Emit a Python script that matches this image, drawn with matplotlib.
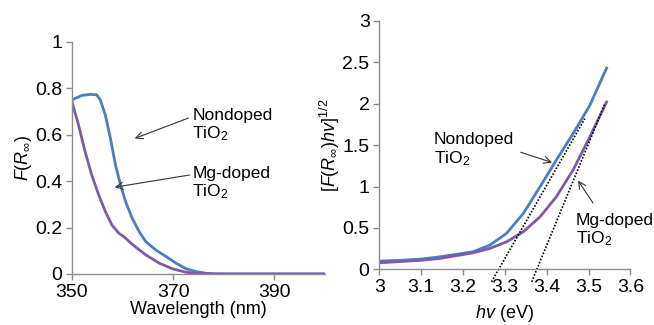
import numpy as np
import matplotlib.pyplot as plt

plt.rcParams['font.family'] = 'Liberation Sans'
plt.rcParams['mathtext.fontset'] = 'custom'
plt.rcParams['mathtext.rm'] = 'Liberation Sans'
plt.rcParams['mathtext.it'] = 'Liberation Sans:italic'

# Left panel: F(R) vs wavelength
wl_nondoped = [350, 351.9, 353.6, 354.9, 355.6, 356.6, 357.6, 358.6, 359.6, 360.6, 361.9,
               363.3, 364.6, 366.6, 368.6, 370.6, 372.6, 374.6, 376.5, 378, 390, 400]
fr_nondoped = [0.75, 0.769, 0.774, 0.772, 0.75, 0.685, 0.585, 0.47, 0.384, 0.312, 0.24,
               0.182, 0.139, 0.103, 0.075, 0.046, 0.022, 0.01, 0.003, 0.0, 0.0, 0.0]
wl_mgdoped = [350, 351.3, 352.6, 353.9, 355.3, 356.6, 357.9, 359.3, 360.3, 361.9, 364.6,
              367.3, 369.9, 372.6, 374.6, 380, 390, 400]
fr_mgdoped = [0.743, 0.642, 0.527, 0.427, 0.34, 0.269, 0.211, 0.175, 0.16, 0.128, 0.082,
              0.046, 0.022, 0.007, 0.002, 0.0, 0.0, 0.0]

# Right panel: Tauc plot
hv_nondoped = [3.0, 3.05, 3.1, 3.145, 3.224, 3.264, 3.304, 3.344, 3.384, 3.423, 3.463, 3.503, 3.543]
tauc_nondoped = [0.1, 0.11, 0.125, 0.152, 0.213, 0.293, 0.435, 0.676, 0.998, 1.32, 1.64, 1.98, 2.43]
hv_mgdoped = [3.0, 3.05, 3.1, 3.145, 3.224, 3.264, 3.304, 3.344, 3.384, 3.423, 3.463, 3.503, 3.543]
tauc_mgdoped = [0.08, 0.095, 0.11, 0.133, 0.2, 0.253, 0.333, 0.454, 0.635, 0.877, 1.2, 1.6, 2.02]

# Tangent (band gap extrapolation) lines
tan_nondoped_x = [3.268, 3.491]
tan_nondoped_y = [-0.15, 1.82]
tan_mgdoped_x = [3.364, 3.539]
tan_mgdoped_y = [-0.15, 2.0]

blue = "#4A7EC0"
purple = "#7D5BA6"
grey = "#8C8C8C"

fig = plt.figure(figsize=(6.54, 3.25), dpi=100)
ax1 = fig.add_axes([0.110, 0.157, 0.387, 0.714])
ax2 = fig.add_axes([0.580, 0.171, 0.384, 0.765])

for ax in (ax1, ax2):
    for s in ("top", "right"):
        ax.spines[s].set_visible(False)
    for s in ("left", "bottom"):
        ax.spines[s].set_color(grey)
        ax.spines[s].set_linewidth(1.0)
    ax.tick_params(direction="out", length=4, width=1, color=grey, labelsize=14, pad=3)

ax1.plot(wl_nondoped, fr_nondoped, color=blue, lw=2)
ax1.plot(wl_mgdoped, fr_mgdoped, color=purple, lw=2)
ax1.set_xlim(350, 400)
ax1.set_ylim(0, 1)
ax1.set_xticks([350, 370, 390])
ax1.set_yticks([0, 0.2, 0.4, 0.6, 0.8, 1])
ax1.set_yticklabels(["0", "0.2", "0.4", "0.6", "0.8", "1"])
ax1.set_xlabel("Wavelength (nm)", fontsize=13, labelpad=0)
ax1.set_ylabel(r"$F(R_\infty)$", fontsize=13, labelpad=1)

arrow_kw = dict(arrowstyle="->", color="#333333", lw=0.8)

ax1.annotate("Nondoped\nTiO$_2$", xy=(361.9, 0.58), xytext=(373.8, 0.64),
             fontsize=12.5, va="center", ha="left", linespacing=1.15,
             arrowprops=dict(arrow_kw, relpos=(0, 0.75), shrinkA=1))
ax1.annotate("Mg-doped\nTiO$_2$", xy=(357.9, 0.372), xytext=(373.8, 0.39),
             fontsize=12.5, va="center", ha="left", linespacing=1.15,
             arrowprops=dict(arrow_kw, relpos=(0, 0.75), shrinkA=0))

ax2.plot(hv_nondoped, tauc_nondoped, color=blue, lw=2)
ax2.plot(hv_mgdoped, tauc_mgdoped, color=purple, lw=2)
ax2.plot(tan_nondoped_x, tan_nondoped_y, color="black", lw=1.2, ls=(0, (1, 1)), clip_on=False)
ax2.plot(tan_mgdoped_x, tan_mgdoped_y, color="black", lw=1.2, ls=(0, (1, 1)), clip_on=False)
ax2.set_xlim(3.0, 3.6)
ax2.set_ylim(0, 3)
ax2.set_xticks(np.round(np.arange(3.0, 3.61, 0.1), 1))
ax2.set_xticklabels(["3", "3.1", "3.2", "3.3", "3.4", "3.5", "3.6"])
ax2.set_yticks([0, 0.5, 1, 1.5, 2, 2.5, 3])
ax2.set_yticklabels(["0", "0.5", "1", "1.5", "2", "2.5", "3"])
ax2.set_xlabel(r"$hv$ (eV)", fontsize=13, labelpad=5)
ax2.set_ylabel(r"$[F(R_\infty)hv]^{1/2}$", fontsize=13, labelpad=0)

ax2.annotate("Nondoped\nTiO$_2$", xy=(3.419, 1.28), xytext=(3.13, 1.44),
             fontsize=12.5, va="center", ha="left", linespacing=1.15,
             arrowprops=dict(arrow_kw, relpos=(1.0, 0.5), shrinkA=3))
ax2.annotate("Mg-doped\nTiO$_2$", xy=(3.471, 1.10), xytext=(3.47, 0.47),
             fontsize=12.5, va="center", ha="left", linespacing=1.15,
             arrowprops=dict(arrow_kw, relpos=(0.3, 1.0), shrinkA=6))

fig.savefig("out.png", dpi=100)
